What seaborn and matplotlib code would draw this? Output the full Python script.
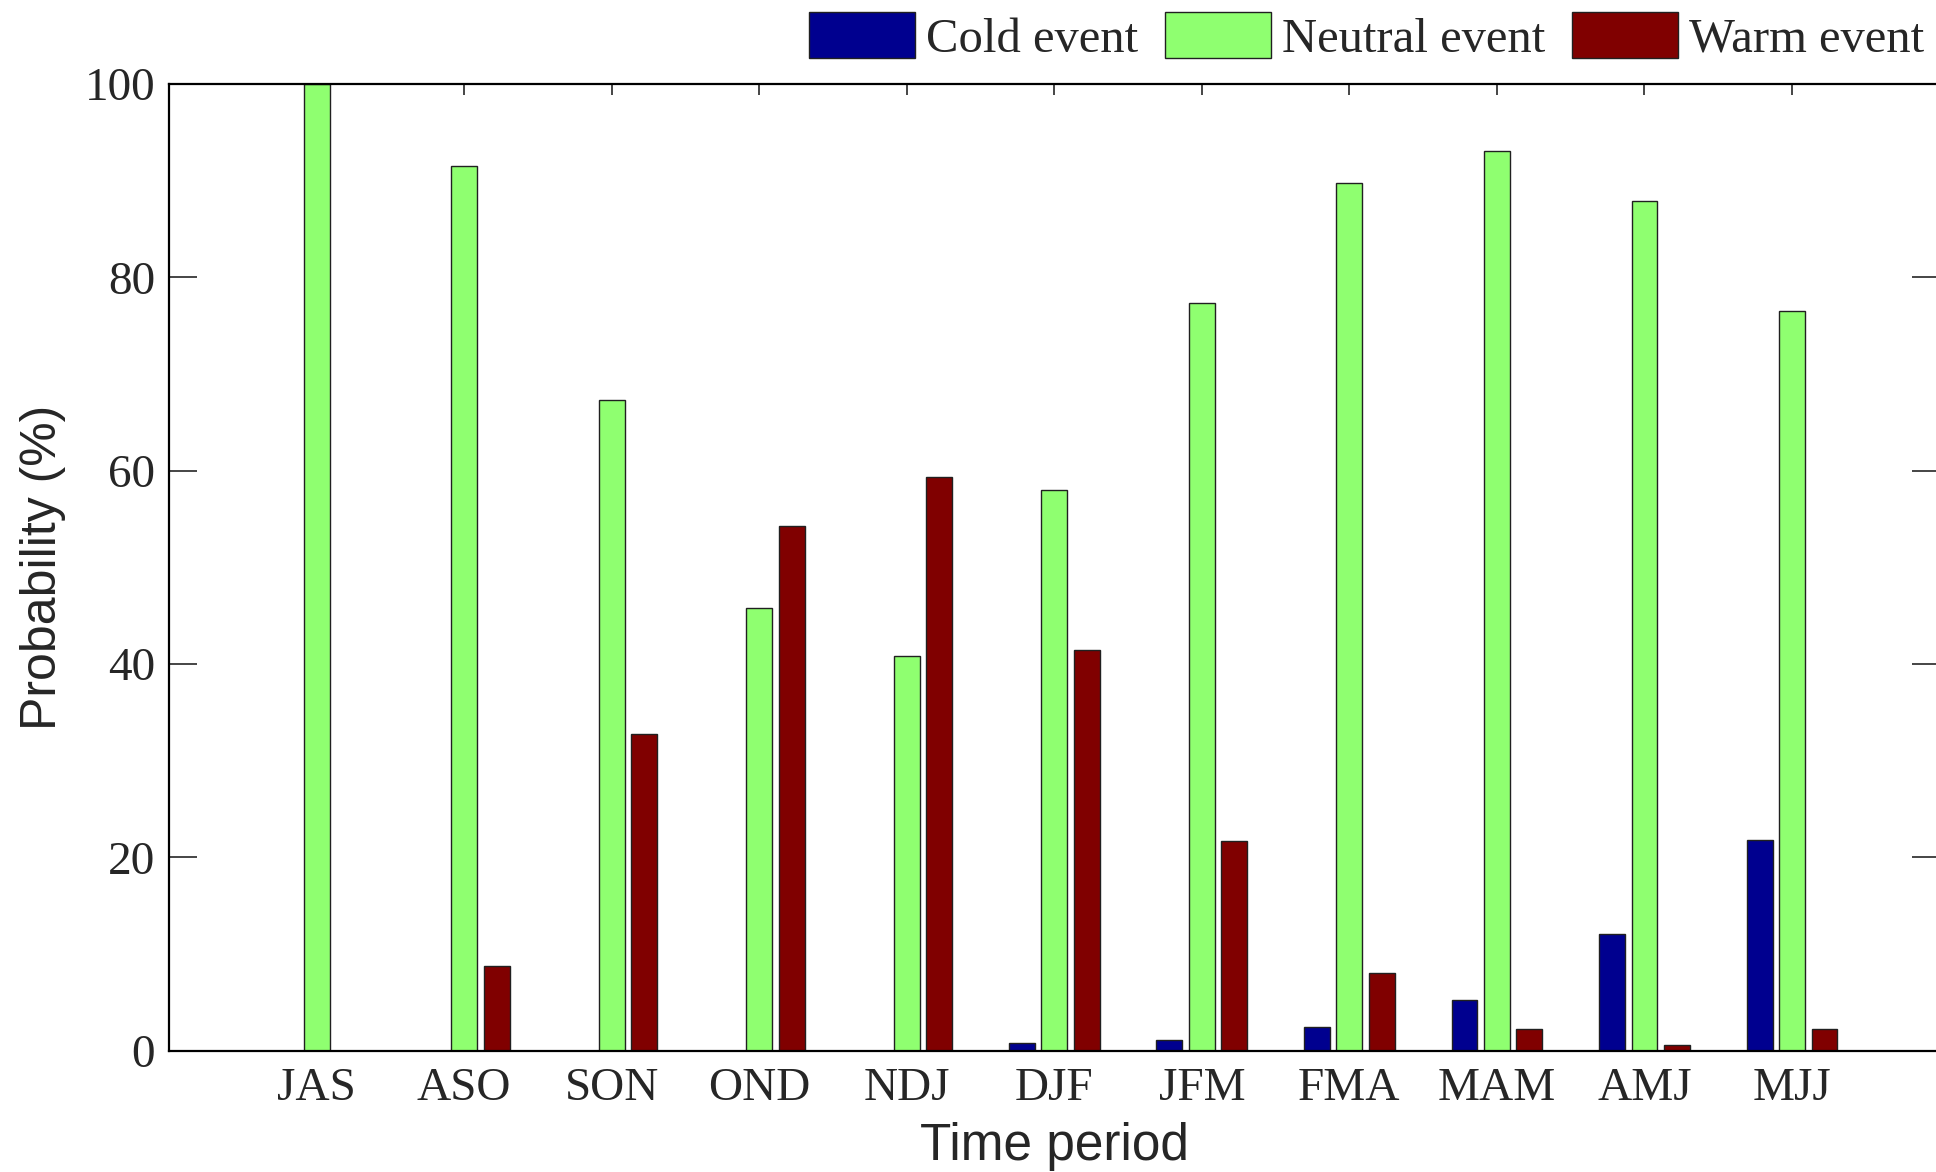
import matplotlib
matplotlib.use("Agg")
import matplotlib.pyplot as plt
import seaborn as sns
import pandas as pd

periods = ["JAS", "ASO", "SON", "OND", "NDJ", "DJF", "JFM", "FMA", "MAM", "AMJ", "MJJ"]
events = ["Cold event", "Neutral event", "Warm event"]
cold = [0, 0, 0, 0, 0, 0.8, 1.1, 2.5, 5.2, 12.1, 21.8]
neutral = [100, 91.5, 67.3, 45.8, 40.8, 58.0, 77.3, 89.8, 93.1, 87.9, 76.5]
warm = [0, 8.8, 32.8, 54.3, 59.3, 41.4, 21.7, 8.0, 2.2, 0.6, 2.2]
colors = ["#00008F", "#8FFF70", "#800000"]
yticks = [0, 20, 40, 60, 80, 100]

rows = []
for name, vals in zip(events, [cold, neutral, warm]):
    for p, v in zip(periods, vals):
        rows.append({"period": p, "event": name, "prob": v})
df = pd.DataFrame(rows)

sns.set_theme(style="ticks")
serif = ["Liberation Serif", "DejaVu Serif"]
sans = ["Liberation Sans", "DejaVu Sans"]
plt.rcParams["font.family"] = serif

fig = plt.figure(figsize=(19.36, 11.72), dpi=100)
ax = fig.add_axes([169 / 1936, 1 - 1050.7 / 1172, (1939.6 - 169) / 1936, (1050.7 - 84) / 1172])

sns.barplot(data=df, x="period", y="prob", hue="event", order=periods, hue_order=events,
            palette=colors, width=0.66, gap=0.2, edgecolor="#202020", linewidth=1.0,
            saturation=1, errorbar=None, ax=ax)

ax.set_xlim(-1.0, 11.0)
ax.set_ylim(0, 100)
ax.set_yticks(yticks)
ax.set_yticklabels([str(t) for t in yticks], fontsize=34, family=serif)
ax.set_xticks(range(len(periods)))
ax.set_xticklabels(periods, fontsize=34, family=serif)
ax.tick_params(axis="y", direction="in", length=20, width=1.2, left=True, right=True, pad=10)
ax.tick_params(axis="x", direction="in", length=8, width=1.2, top=True, bottom=True, pad=12)
for s in ax.spines.values():
    s.set_linewidth(1.6)
    s.set_color("black")
    s.set_visible(True)

ax.set_xlabel("Time period", fontsize=37, family=sans, labelpad=9)
ax.set_ylabel("Probability (%)", fontsize=36, family=sans, labelpad=13)

sns.move_legend(ax, "center right", bbox_to_anchor=(1924 / 1936, 1 - 37 / 1172),
                bbox_transform=fig.transFigure, ncol=3, frameon=False, title=None,
                fontsize=35, handlelength=2.18, handleheight=1.05, handletextpad=0.23,
                columnspacing=0.55, borderpad=0, borderaxespad=0)
for t in ax.get_legend().get_texts():
    t.set_family(serif)

fig.savefig("out.png", dpi=100)
